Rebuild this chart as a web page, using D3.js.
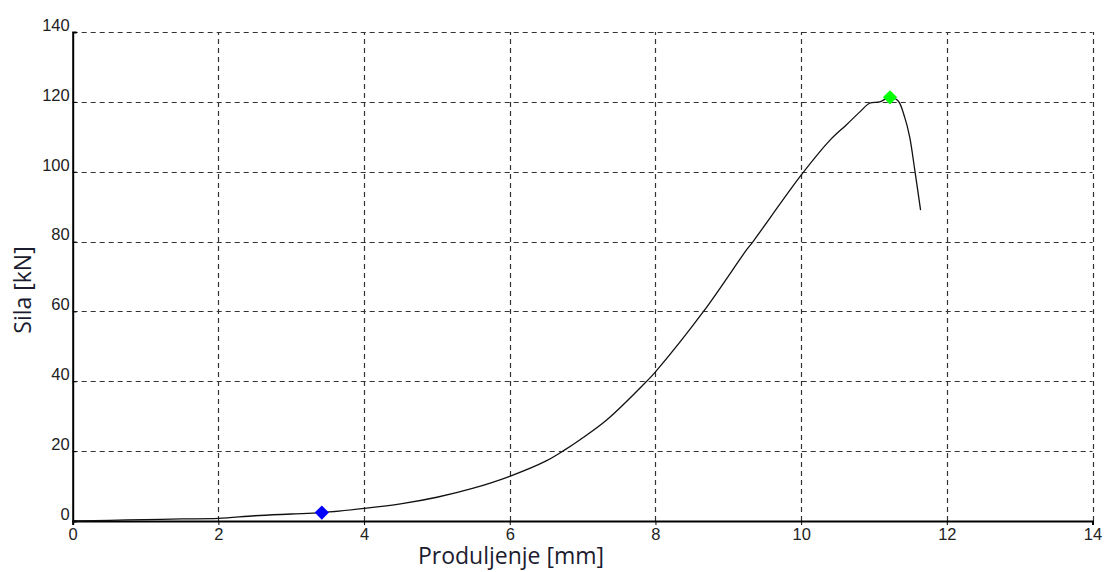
<!DOCTYPE html>
<html>
<head>
<meta charset="utf-8">
<script src="https://cdn.jsdelivr.net/npm/d3@7"></script>
<style>
  body { margin: 0; background: #fff; }
  svg text { font-family: Arial, "Liberation Sans", sans-serif; }
</style>
</head>
<body>
<script>
// elongation [mm] vs force [kN]
var elong = [0, 0.5, 1, 1.5, 2, 2.5, 3, 3.42, 4, 4.5, 5, 5.5, 6, 6.5, 6.75, 6.96, 7.33, 7.88, 8, 8.66, 9.25, 9.34, 10, 10.4, 10.62, 10.81, 10.94, 11.08, 11.22, 11.33, 11.42, 11.49, 11.56, 11.64];
var force = [0, 0.2, 0.4, 0.6, 0.75, 1.5, 2.0, 2.4, 3.6, 4.9, 6.8, 9.4, 12.8, 17.2, 20.3, 23.2, 28.9, 40, 42.7, 60, 77.6, 80, 99, 109.1, 113.4, 117.2, 119.6, 120.0, 121.3, 120.3, 115.7, 110, 100.5, 89];

var markX = [3.42, 11.22],
    markY = [2.4, 121.3],
    markColor = ["#0000ff", "#00ff00"];

var xTicks = [0, 2, 4, 6, 8, 10, 12, 14],
    yTicks = [0, 20, 40, 60, 80, 100, 120, 140];

var width = 1104, height = 572;
var margin = {left: 72.7, right: 11.5, top: 32, bottom: 51};

var svg = d3.select("body").append("svg")
    .attr("width", width)
    .attr("height", height);

var x = d3.scaleLinear().domain([0, 14]).range([margin.left, width - margin.right]);
var y = d3.scaleLinear().domain([0, 140]).range([height - margin.bottom, margin.top]);

// grid
var grid = svg.append("g")
    .attr("stroke", "#333")
    .attr("stroke-width", 1.2)
    .attr("stroke-dasharray", "5,4");

grid.selectAll(".gx")
    .data(xTicks.filter(d => d > 0))
    .enter().append("line")
    .attr("x1", d => Math.round(x(d)) + 0.5)
    .attr("x2", d => Math.round(x(d)) + 0.5)
    .attr("y1", y(0))
    .attr("y2", y(140));

grid.selectAll(".gy")
    .data(yTicks.filter(d => d > 0))
    .enter().append("line")
    .attr("y1", d => Math.round(y(d)) + 0.5)
    .attr("y2", d => Math.round(y(d)) + 0.5)
    .attr("x1", x(0))
    .attr("x2", x(14));

// axes
var xAxis = svg.append("g")
    .attr("transform", "translate(0," + y(0) + ")")
    .call(d3.axisBottom(x).tickValues(xTicks).tickSize(4).tickPadding(3));
var yAxis = svg.append("g")
    .attr("transform", "translate(" + x(0) + ",0)")
    .call(d3.axisLeft(y).tickValues(yTicks).tickSize(-4).tickPadding(3));

[xAxis, yAxis].forEach(function(a) {
  a.select(".domain").attr("stroke", "#000").attr("stroke-width", 2);
  a.selectAll(".tick line").attr("stroke", "#000");
  a.selectAll(".tick text")
    .attr("fill", "#222")
    .style("font-size", "16.5px")
    .style("font-family", "Arial, 'Liberation Sans', sans-serif");
});
yAxis.selectAll(".tick text").attr("dy", "-0.1em");
xAxis.selectAll(".tick text").attr("dy", "0.75em");

// curve
var pts = elong.map((d, i) => [d, force[i]]);
var line = d3.line()
    .x(d => x(d[0]))
    .y(d => y(d[1]))
    .curve(d3.curveCatmullRom.alpha(0.5));

svg.append("path")
    .datum(pts)
    .attr("fill", "none")
    .attr("stroke", "#111")
    .attr("stroke-width", 1.3)
    .attr("d", line);

// markers
svg.selectAll(".mark")
    .data(markX)
    .enter().append("path")
    .attr("transform", (d, i) => "translate(" + x(d) + "," + y(markY[i]) + ")")
    .attr("d", d3.symbol().type(d3.symbolDiamond2).size(130))
    .attr("fill", (d, i) => markColor[i]);

// titles
svg.append("text")
    .attr("x", 511)
    .attr("y", 564)
    .attr("text-anchor", "middle")
    .attr("fill", "#1c1c30")
    .style("font-family", "'Open Sans', 'Noto Sans', sans-serif")
    .style("font-size", "23px")
    .text("Produljenje [mm]");

svg.append("text")
    .attr("transform", "translate(31,290) rotate(-90)")
    .attr("text-anchor", "middle")
    .attr("fill", "#1c1c30")
    .style("font-family", "'Open Sans', 'Noto Sans', sans-serif")
    .style("font-size", "23px")
    .text("Sila [kN]");
</script>
</body>
</html>
